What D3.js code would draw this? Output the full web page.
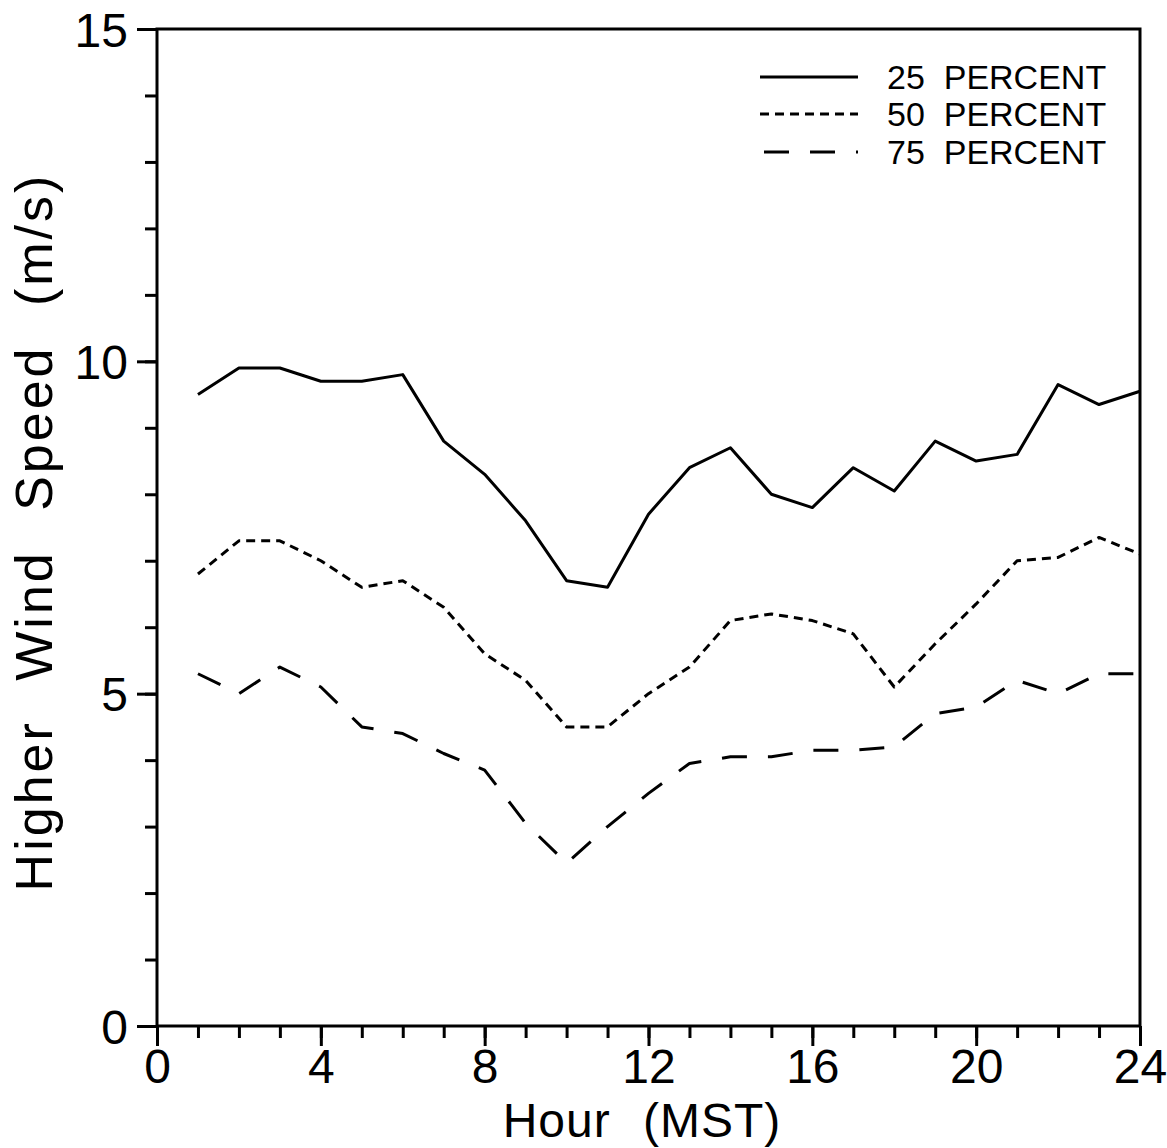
<!DOCTYPE html>
<html>
<head>
<meta charset="utf-8">
<script src="https://cdn.jsdelivr.net/npm/d3@7"></script>
<style>
  body { margin: 0; background: #fff; }
  svg { display: block; font-family: "Liberation Sans", Arial, sans-serif; }
</style>
</head>
<body>
<svg id="chart"></svg>
<script>
// hours (MST) of each reading
const hours = [1, 2, 3, 4, 5, 6, 7, 8, 9, 10, 11, 12, 13, 14, 15, 16, 17, 18, 19, 20, 21, 22, 23, 24];

// higher wind speed (m/s) per percentile
const p25 = [9.5, 9.9, 9.9, 9.7, 9.7, 9.8, 8.8, 8.3, 7.6, 6.7, 6.6, 7.7, 8.4, 8.7, 8.0, 7.8, 8.4, 8.05, 8.8, 8.5, 8.6, 9.65, 9.35, 9.55];
const p50 = [6.8, 7.3, 7.3, 7.0, 6.6, 6.7, 6.3, 5.6, 5.2, 4.5, 4.5, 5.0, 5.4, 6.1, 6.2, 6.1, 5.9, 5.1, 5.75, 6.35, 7.0, 7.05, 7.35, 7.1];
const p75 = [5.3, 5.0, 5.4, 5.1, 4.5, 4.4, 4.1, 3.85, 3.05, 2.45, 3.0, 3.5, 3.95, 4.05, 4.05, 4.15, 4.15, 4.2, 4.7, 4.8, 5.2, 5.0, 5.3, 5.3];

const seriesNames = ["25  PERCENT", "50  PERCENT", "75  PERCENT"];

// axis ticks
const xMinorTicks = [0, 1, 2, 3, 4, 5, 6, 7, 8, 9, 10, 11, 12, 13, 14, 15, 16, 17, 18, 19, 20, 21, 22, 23, 24];
const xTickLabels = [0, 4, 8, 12, 16, 20, 24];
const yMinorTicks = [0, 1, 2, 3, 4, 5, 6, 7, 8, 9, 10, 11, 12, 13, 14, 15];
const yTickLabels = [0, 5, 10, 15];

const width = 1167, height = 1148;
const margin = { top: 29, right: 27, bottom: 122, left: 157 };

const svg = d3.select("#chart")
    .attr("width", width)
    .attr("height", height);

const x = d3.scaleLinear()
    .domain([0, 24])
    .range([margin.left, width - margin.right]);

const y = d3.scaleLinear()
    .domain([0, 15])
    .range([height - margin.bottom, margin.top]);

const series = [
  { name: seriesNames[0], values: p25, dash: null },
  { name: seriesNames[1], values: p50, dash: "9,6" },
  { name: seriesNames[2], values: p75, dash: "25,21" }
];

// minor ticks (short), then major ticks (long, labelled)
const xAxisMinor = d3.axisBottom(x).tickValues(xMinorTicks).tickSize(12).tickFormat("").tickSizeOuter(0);
const xAxisMajor = d3.axisBottom(x).tickValues(xTickLabels).tickSize(20).tickPadding(3).tickFormat(d => d).tickSizeOuter(0);
const yAxisMinor = d3.axisLeft(y).tickValues(yMinorTicks).tickSize(12).tickFormat("").tickSizeOuter(0);
const yAxisMajor = d3.axisLeft(y).tickValues(yTickLabels).tickSize(20).tickPadding(9).tickFormat(d => d).tickSizeOuter(0);

function styleAxis(g, fontSize) {
  g.select(".domain").remove();
  g.selectAll(".tick line").attr("stroke", "#000").attr("stroke-width", 3);
  g.selectAll(".tick text")
    .attr("fill", "#000")
    .style("font-size", fontSize + "px")
    .style("font-family", "'Liberation Sans', Arial, sans-serif");
}

const bottomY = y(0);
svg.append("g").attr("transform", `translate(0,${bottomY})`).call(xAxisMinor).call(g => styleAxis(g, 48));
svg.append("g").attr("transform", `translate(0,${bottomY})`).call(xAxisMajor).call(g => styleAxis(g, 48));
svg.append("g").attr("transform", `translate(${x(0)},0)`).call(yAxisMinor).call(g => styleAxis(g, 48));
svg.append("g").attr("transform", `translate(${x(0)},0)`).call(yAxisMajor).call(g => styleAxis(g, 48))
    .selectAll(".tick text").attr("dy", "0.36em");

// frame
svg.append("rect")
    .attr("x", x(0))
    .attr("y", y(15))
    .attr("width", x(24) - x(0))
    .attr("height", y(0) - y(15))
    .attr("fill", "none")
    .attr("stroke", "#000")
    .attr("stroke-width", 3);

// the lines
const line = d3.line()
    .x((d, i) => x(hours[i]))
    .y(d => y(d));

svg.selectAll(".series")
    .data(series)
    .join("path")
    .attr("class", "series")
    .attr("fill", "none")
    .attr("stroke", "#000")
    .attr("stroke-width", 3)
    .attr("stroke-linejoin", "round")
    .attr("stroke-dasharray", d => d.dash)
    .attr("d", d => line(d.values));

// legend
const legendRows = [77, 114, 152];
const legend = svg.selectAll(".legend")
    .data(series)
    .join("g")
    .attr("class", "legend")
    .attr("transform", (d, i) => `translate(760,${legendRows[i]})`);

legend.append("line")
    .attr("x1", d => d.dash === "25,21" ? 4 : 0)
    .attr("x2", 98)
    .attr("stroke", "#000")
    .attr("stroke-width", 3)
    .attr("stroke-dasharray", d => d.dash);

legend.append("text")
    .attr("x", 127)
    .attr("y", 12)
    .style("font-size", "34px")
    .style("white-space", "pre")
    .attr("fill", "#000")
    .text(d => d.name);

// axis titles
svg.append("text")
    .attr("x", 642)
    .attr("y", 1137)
    .attr("text-anchor", "middle")
    .style("font-size", "48px")
    .style("letter-spacing", "1px")
    .style("word-spacing", "18px")
    .text("Hour (MST)");

svg.append("text")
    .attr("transform", "translate(52,532) rotate(-90)")
    .attr("text-anchor", "middle")
    .style("font-size", "52px")
    .style("letter-spacing", "3px")
    .style("word-spacing", "22px")
    .text("Higher Wind Speed (m/s)");
</script>
</body>
</html>
